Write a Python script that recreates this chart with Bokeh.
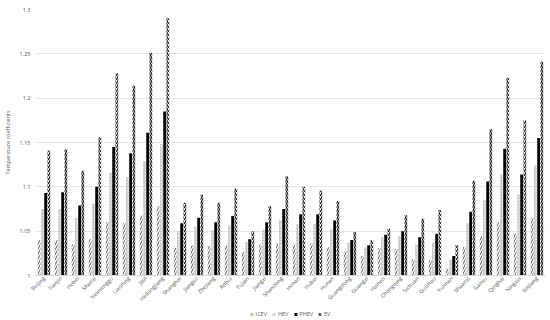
from bokeh.plotting import figure
from bokeh.models import (ColumnDataSource, FactorRange, Legend, LegendItem, FixedTicker,
                          CustomJSTickFormatter)
from bokeh.layouts import column
from bokeh.transform import dodge
from bokeh.embed import file_html
from bokeh.resources import INLINE
import math

provinces = ["Beijing", "Tianjin", "Hebei", "Shanxi", "Neimenggu", "Liaoning", "Jilin",
             "Heilongjiang", "Shanghai", "Jiangsu", "Zhejiang", "Anhui", "Fujian", "Jiangxi",
             "Shandong", "Henan", "Hubei", "Hunan", "Guangdong", "Guangxi", "Hainan",
             "Chongqing", "Sichuan", "Guizhou", "Yunnan", "Shaanxi", "Gansu", "Qinghai",
             "Ningxia", "Xinjiang"]

icev = [1.040, 1.040, 1.035, 1.041, 1.060, 1.059, 1.068, 1.078, 1.031, 1.034, 1.033, 1.034,
        1.026, 1.035, 1.036, 1.035, 1.036, 1.032, 1.027, 1.022, 1.031, 1.030, 1.018, 1.017,
        1.008, 1.032, 1.044, 1.060, 1.047, 1.065]
hev = [1.075, 1.075, 1.065, 1.081, 1.116, 1.111, 1.129, 1.148, 1.050, 1.055, 1.051, 1.056,
       1.038, 1.052, 1.062, 1.058, 1.058, 1.052, 1.037, 1.032, 1.043, 1.044, 1.035, 1.037,
       1.018, 1.059, 1.085, 1.114, 1.091, 1.124]
phev = [1.093, 1.094, 1.079, 1.100, 1.145, 1.138, 1.161, 1.185, 1.059, 1.065, 1.060, 1.067,
        1.041, 1.060, 1.075, 1.069, 1.069, 1.062, 1.040, 1.034, 1.046, 1.050, 1.043, 1.047,
        1.022, 1.072, 1.106, 1.143, 1.114, 1.155]
ev = [1.141, 1.142, 1.118, 1.156, 1.228, 1.214, 1.251, 1.290, 1.082, 1.091, 1.082, 1.098,
      1.050, 1.078, 1.112, 1.100, 1.096, 1.084, 1.049, 1.040, 1.053, 1.068, 1.064, 1.074,
      1.034, 1.107, 1.165, 1.223, 1.175, 1.241]

series_names = ["ICEV", "HEV", "PHEV", "EV"]
y_ticks = [1.0, 1.05, 1.1, 1.15, 1.2, 1.25, 1.3]

styles = [
    dict(fill_color="white", line_color=None, hatch_pattern="/", hatch_color="#555555",
         hatch_scale=5, hatch_weight=1.0),
    dict(fill_color="#c8c8c8", line_color=None, hatch_pattern=".", hatch_color="white",
         hatch_scale=3, hatch_weight=1.0),
    dict(fill_color="black", line_color=None),
    dict(fill_color="white", line_color=None, hatch_pattern="/", hatch_color="#111111",
         hatch_scale=4, hatch_weight=1.2),
]

src = ColumnDataSource(dict(prov=provinces, icev=icev, hev=hev, phev=phev, ev=ev))

p = figure(width=548, height=308, x_range=FactorRange(*provinces, range_padding=0),
           y_range=(1.0, 1.3), output_backend="svg", toolbar_location=None,
           min_border_left=28, min_border_right=3, min_border_top=9, min_border_bottom=0)
p.outline_line_color = None

w = 0.16
offsets = [-0.285, -0.095, 0.095, 0.285]
cols = ["icev", "hev", "phev", "ev"]
for off, col, st in zip(offsets, cols, styles):
    p.vbar(x=dodge("prov", off, range=p.x_range), top=col, bottom=1.0, width=w, source=src, **st)

p.yaxis.ticker = FixedTicker(ticks=y_ticks)
p.yaxis.formatter = CustomJSTickFormatter(code="return String(parseFloat(tick.toFixed(2)));")
p.yaxis.axis_label = "Temperature coefficients"
p.yaxis.axis_label_text_font = "Open Sans"
p.yaxis.axis_label_text_font_size = "5.5px"
p.yaxis.axis_label_text_font_style = "normal"
p.yaxis.axis_label_text_color = "#595959"
p.yaxis.axis_label_standoff = 5
p.yaxis.axis_line_color = None
p.yaxis.major_tick_line_color = None
p.yaxis.minor_tick_line_color = None
p.yaxis.major_tick_out = 0
p.yaxis.major_tick_in = 0
p.yaxis.minor_tick_out = 0
p.yaxis.major_label_text_font_size = "5.5px"
p.yaxis.major_label_text_color = "#595959"
p.yaxis.major_label_text_font = "Open Sans"
p.yaxis.major_label_standoff = 5

p.xaxis.axis_line_color = "#d9d9d9"
p.xaxis.major_tick_line_color = None
p.xaxis.minor_tick_line_color = None
p.xaxis.major_tick_out = 0
p.xaxis.major_tick_in = 0
p.xaxis.minor_tick_out = 0
p.xaxis.major_label_orientation = math.pi / 4
p.xaxis.major_label_text_font_size = "5.5px"
p.xaxis.major_label_text_color = "#595959"
p.xaxis.major_label_text_font = "Open Sans"
p.xaxis.major_label_standoff = 2

p.xgrid.grid_line_color = None
p.ygrid.grid_line_color = "#e6e6e6"
p.ygrid.grid_line_width = 1

# legend strip below the chart (its bars lie outside the strip's visible range)
lg = figure(width=548, height=11, x_range=(0, 1), y_range=(0, 1), output_backend="svg",
            toolbar_location=None, x_axis_location=None, y_axis_location=None,
            min_border=0, min_border_left=0, min_border_right=0, min_border_top=0,
            min_border_bottom=0)
lg.outline_line_color = None
lg.xgrid.grid_line_color = None
lg.ygrid.grid_line_color = None
items = []
for name, st in zip(series_names, styles):
    r = lg.vbar(x=[5], top=[5], bottom=[4], width=0.1, **st)
    items.append(LegendItem(label=name, renderers=[r]))
legend = Legend(items=items, orientation="horizontal", location="center",
                label_text_font_size="5.5px", label_text_color="#595959",
                label_text_font="Open Sans", glyph_width=4, glyph_height=4,
                label_standoff=2, spacing=5, padding=0, margin=0,
                label_width=0, label_height=6, border_line_color=None,
                background_fill_alpha=0)
lg.add_layout(legend)

layout = column(p, lg, spacing=0)
open("out.html", "w").write(file_html(layout, INLINE))
